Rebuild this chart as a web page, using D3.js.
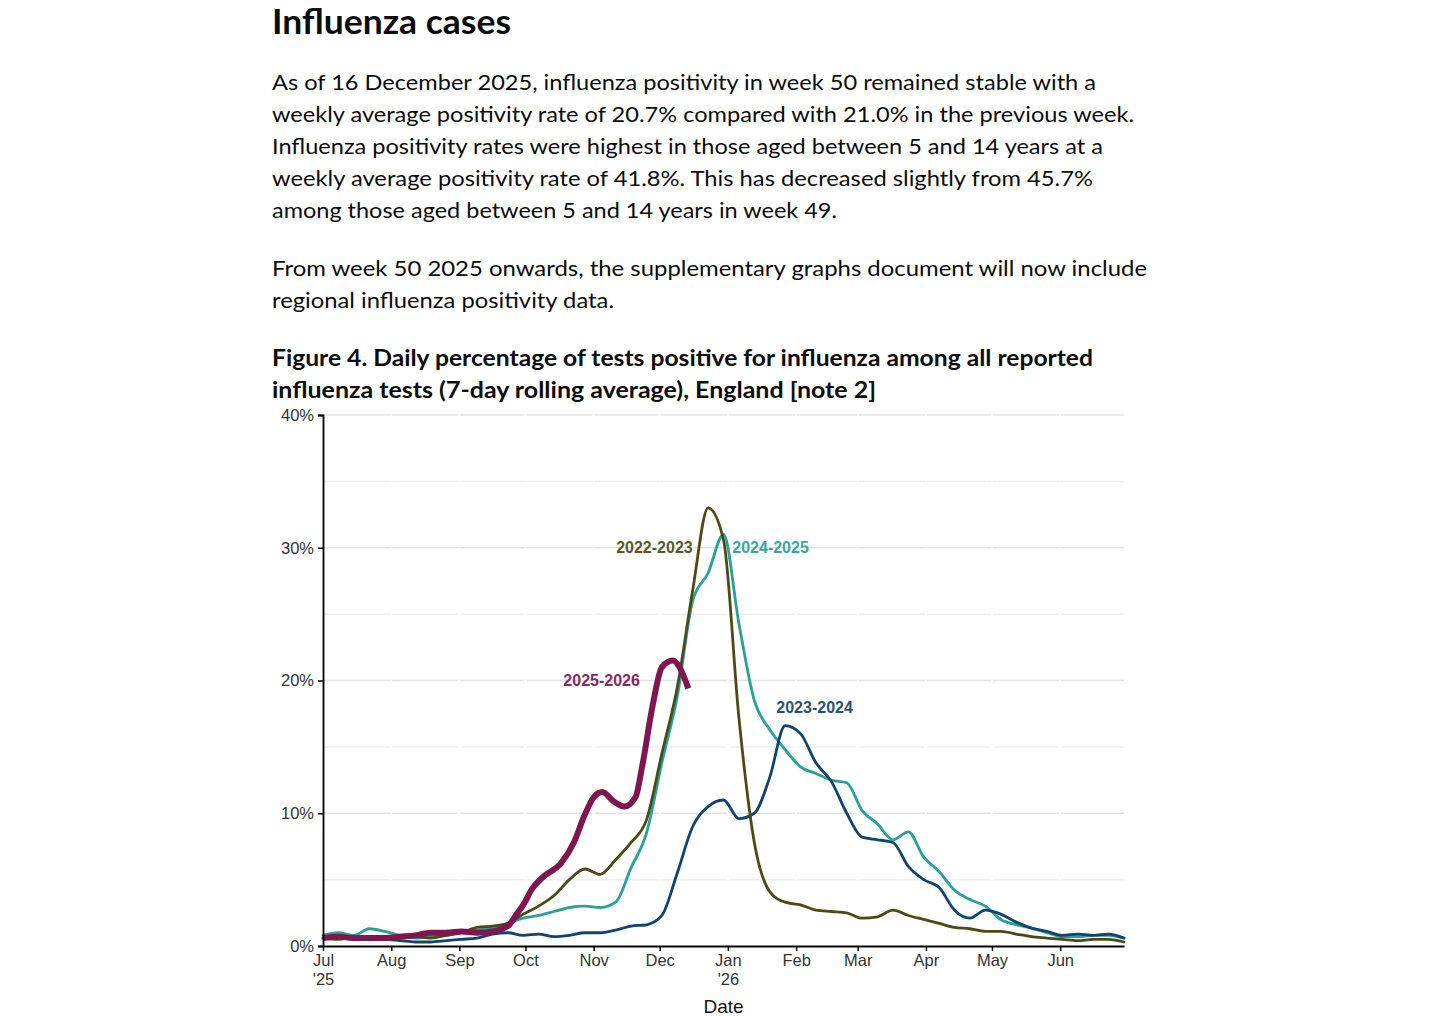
<!DOCTYPE html>
<html><head><meta charset="utf-8">
<script src="https://cdn.jsdelivr.net/npm/d3@7"></script>
<style>
html,body{margin:0;padding:0;background:#fff;}
svg{display:block;}
</style></head><body>
<svg id="chart" width="1446" height="1016"></svg>
<script>
// ---------- DATA ----------
const weekDates = ["2025-07-01","2025-07-08","2025-07-15","2025-07-22","2025-07-29",
  "2025-08-05","2025-08-12","2025-08-19","2025-08-26",
  "2025-09-02","2025-09-09","2025-09-16","2025-09-23","2025-09-30",
  "2025-10-07","2025-10-14","2025-10-21","2025-10-28",
  "2025-11-04","2025-11-11","2025-11-18","2025-11-25",
  "2025-12-02","2025-12-09","2025-12-16","2025-12-23","2025-12-30",
  "2026-01-06","2026-01-13","2026-01-20","2026-01-27",
  "2026-02-03","2026-02-10","2026-02-17","2026-02-24",
  "2026-03-03","2026-03-10","2026-03-17","2026-03-24","2026-03-31",
  "2026-04-07","2026-04-14","2026-04-21","2026-04-28",
  "2026-05-05","2026-05-12","2026-05-19","2026-05-26",
  "2026-06-02","2026-06-09","2026-06-16","2026-06-23","2026-06-30"];

const values2022_2023 = [0.6,0.5,0.7,0.5,0.5,0.6,0.7,0.6,0.8,1.0,1.4,1.5,1.7,2.4,3.0,3.8,5.0,5.8,5.4,6.5,7.8,9.5,14.5,19.5,26.8,33.0,30.6,17.2,7.8,4.1,3.3,3.1,2.7,2.6,2.5,2.1,2.2,2.7,2.3,2.0,1.7,1.4,1.3,1.1,1.1,0.9,0.7,0.6,0.5,0.4,0.5,0.5,0.3];
const values2023_2024 = [0.6,0.6,0.5,0.5,0.5,0.4,0.3,0.3,0.4,0.5,0.6,0.9,1.0,0.8,0.9,0.7,0.8,1.0,1.0,1.2,1.5,1.6,2.3,5.5,9.0,10.5,11.0,9.6,10.0,12.7,16.6,16.0,13.8,12.4,10.0,8.2,8.0,7.8,6.0,5.0,4.4,2.7,2.1,2.7,2.4,1.8,1.35,1.1,0.8,0.9,0.8,0.9,0.6];
const values2024_2025 = [0.8,1.0,0.8,1.3,1.1,0.8,0.6,0.7,0.8,1.1,1.2,1.4,1.7,2.1,2.3,2.6,2.9,3.0,2.9,3.3,5.9,8.5,13.8,18.8,26.0,28.1,31.0,24.3,18.5,16.3,14.8,13.5,13.0,12.5,12.3,10.2,9.2,8.0,8.6,6.7,5.6,4.2,3.5,3.0,2.0,1.6,1.35,1.0,0.7,0.7,0.8,0.8,0.6];

const currentDates = ["2025-07-01","2025-07-08","2025-07-15","2025-07-22","2025-07-29",
  "2025-08-05","2025-08-12","2025-08-19","2025-08-26",
  "2025-09-02","2025-09-09","2025-09-16","2025-09-23","2025-09-27","2025-09-30",
  "2025-10-04","2025-10-09","2025-10-17","2025-10-23","2025-10-28",
  "2025-11-01","2025-11-05","2025-11-10","2025-11-15","2025-11-20","2025-11-23","2025-11-28",
  "2025-12-02","2025-12-07","2025-12-10","2025-12-14"];
const values2025_2026 = [0.6,0.7,0.6,0.6,0.6,0.7,0.8,1.0,1.0,1.1,1.0,1.1,1.5,2.4,3.1,
  4.3,5.2,6.2,7.8,9.9,11.2,11.6,10.9,10.5,11.2,13.5,18.3,21.0,21.5,21.0,19.4];

const seasonNames = ["2022-2023","2023-2024","2024-2025","2025-2026"];
const seasonColors = ["#4b4a16","#12436d","#28a197","#801650"];

const yTicks = [0,10,20,30,40];
const yMinorTicks = [5,15,25,35];
const monthTicks = ["2025-07-01","2025-08-01","2025-09-01","2025-10-01","2025-11-01","2025-12-01",
  "2026-01-01","2026-02-01","2026-03-01","2026-04-01","2026-05-01","2026-06-01"];
const monthLabels = ["Jul","Aug","Sep","Oct","Nov","Dec","Jan","Feb","Mar","Apr","May","Jun"];
const yearLabels = ["'25","","","","","","'26","","","","",""];

// series label anchors
const labelDates = ["2025-12-16","2026-01-23","2026-01-03","2025-11-22"];
const labelValues = [30, 18, 30, 20];
const labelAnchors = ["end","start","start","end"];

const pageTitle = "Influenza cases";
const paragraph1 = [
  "As of 16 December 2025, influenza positivity in week 50 remained stable with a",
  "weekly average positivity rate of 20.7% compared with 21.0% in the previous week.",
  "Influenza positivity rates were highest in those aged between 5 and 14 years at a",
  "weekly average positivity rate of 41.8%. This has decreased slightly from 45.7%",
  "among those aged between 5 and 14 years in week 49."];
const paragraph2 = [
  "From week 50 2025 onwards, the supplementary graphs document will now include",
  "regional influenza positivity data."];
const figureTitle = [
  "Figure 4. Daily percentage of tests positive for influenza among all reported",
  "influenza tests (7-day rolling average), England [note 2]"];
const xAxisTitle = "Date";

// ---------- LAYOUT ----------
const svg = d3.select("#chart");
const plotLeft = 323, plotRight = 1124, plotTop = 415, plotBottom = 946;
const textX = 272;
const textColor = "#0b0c0c";
const bodyFont = "Lato, 'Noto Sans', sans-serif";
const chartFont = "'Liberation Sans', Arial, sans-serif";

// text blocks
svg.append("text").attr("x", textX).attr("y", 34)
  .attr("font-family", bodyFont).attr("font-weight", 700).attr("font-size", 34)
  .attr("fill", textColor).attr("textLength", 239).attr("lengthAdjust", "spacingAndGlyphs")
  .text(pageTitle);

const p1Widths = [824, 862, 831, 821, 565];
paragraph1.forEach((t, i) => {
  svg.append("text").attr("x", textX).attr("y", 90 + i * 32)
    .attr("font-family", bodyFont).attr("font-size", 21.5).attr("fill", textColor)
    .attr("textLength", p1Widths[i]).attr("lengthAdjust", "spacingAndGlyphs").text(t);
});
const p2Widths = [875, 342];
paragraph2.forEach((t, i) => {
  svg.append("text").attr("x", textX).attr("y", 276 + i * 32)
    .attr("font-family", bodyFont).attr("font-size", 21.5).attr("fill", textColor)
    .attr("textLength", p2Widths[i]).attr("lengthAdjust", "spacingAndGlyphs").text(t);
});
const ftWidths = [821, 604];
figureTitle.forEach((t, i) => {
  svg.append("text").attr("x", textX).attr("y", 366 + i * 32)
    .attr("font-family", bodyFont).attr("font-weight", 700).attr("font-size", 22).attr("fill", textColor)
    .attr("textLength", ftWidths[i]).attr("lengthAdjust", "spacingAndGlyphs").text(t);
});

// ---------- SCALES ----------
const parse = d3.timeParse("%Y-%m-%d");
const x = d3.scaleTime().domain([parse("2025-07-01"), parse("2026-06-30")]).range([plotLeft, plotRight]);
const y = d3.scaleLinear().domain([0, 40]).range([plotBottom, plotTop]);

// gridlines
const g = svg.append("g");
g.selectAll("line.minor").data(yMinorTicks).join("line").attr("class", "minor")
  .attr("x1", plotLeft).attr("x2", plotRight).attr("y1", d => y(d)).attr("y2", d => y(d))
  .attr("stroke", "#efefef").attr("stroke-width", 1.5);
g.selectAll("line.major").data(yTicks.filter(d => d > 0)).join("line").attr("class", "major")
  .attr("x1", plotLeft).attr("x2", plotRight).attr("y1", d => y(d)).attr("y2", d => y(d))
  .attr("stroke", "#e3e3e3").attr("stroke-width", 1.5);
// white vertical breaks at month ticks
g.selectAll("line.vbreak").data(monthTicks.slice(1)).join("line").attr("class", "vbreak")
  .attr("x1", d => x(parse(d))).attr("x2", d => x(parse(d)))
  .attr("y1", plotTop - 2).attr("y2", plotBottom)
  .attr("stroke", "#ffffff").attr("stroke-width", 2);

// ---------- LINES ----------
const line = d3.line().x(d => x(d[0])).y(d => y(d[1])).curve(d3.curveMonotoneX);
const hist = [values2022_2023, values2023_2024, values2024_2025];
[2, 1, 0].forEach(i => {
  const pts = weekDates.map((d, k) => [parse(d), hist[i][k]]);
  svg.append("path").datum(pts).attr("d", line)
    .attr("fill", "none").attr("stroke", seasonColors[i]).attr("stroke-width", 2.8)
    .attr("stroke-linejoin", "round").attr("stroke-linecap", "round");
});
const curPts = currentDates.map((d, k) => [parse(d), values2025_2026[k]]);
svg.append("path").datum(curPts).attr("d", line)
  .attr("fill", "none").attr("stroke", seasonColors[3]).attr("stroke-width", 6)
  .attr("stroke-linejoin", "round").attr("stroke-linecap", "butt");

// ---------- AXES ----------
const yAxis = svg.append("g").attr("transform", `translate(${plotLeft},0)`)
  .call(d3.axisLeft(y).tickValues(yTicks).tickFormat(d => d + "%").tickSize(5).tickPadding(4));
yAxis.select(".domain").attr("stroke", "#000").attr("stroke-width", 1.8);
yAxis.selectAll(".tick line").attr("stroke", "#000").attr("stroke-width", 1.5);
yAxis.selectAll(".tick text").attr("font-family", chartFont).attr("font-size", 16.5).attr("fill", "#333");

const xAxis = svg.append("g").attr("transform", `translate(0,${plotBottom})`)
  .call(d3.axisBottom(x).tickValues(monthTicks.map(parse)).tickFormat((d, i) => monthLabels[i])
    .tickSize(5).tickSizeOuter(0).tickPadding(3));
xAxis.select(".domain").attr("stroke", "#000").attr("stroke-width", 1.8);
xAxis.selectAll(".tick line").attr("stroke", "#000").attr("stroke-width", 1.5);
xAxis.selectAll(".tick text").attr("font-family", chartFont).attr("font-size", 16.5).attr("fill", "#333")
  .each(function(d, i) {
    if (yearLabels[i]) {
      d3.select(this).append("tspan").attr("x", 0).attr("dy", "1.15em").text(yearLabels[i]);
    }
  });

svg.append("text").attr("x", (plotLeft + plotRight) / 2).attr("y", 1013)
  .attr("text-anchor", "middle").attr("font-family", chartFont).attr("font-size", 19)
  .attr("fill", "#111").text(xAxisTitle);

// ---------- SERIES LABELS ----------
[0, 1, 2, 3].forEach(i => {
  svg.append("text").attr("x", x(parse(labelDates[i]))).attr("y", y(labelValues[i]))
    .attr("dy", "0.35em").attr("text-anchor", labelAnchors[i])
    .attr("font-family", chartFont).attr("font-weight", 700).attr("font-size", 16)
    .attr("fill", seasonColors[i]).attr("opacity", 0.92).text(seasonNames[i]);
});
</script>
</body></html>
